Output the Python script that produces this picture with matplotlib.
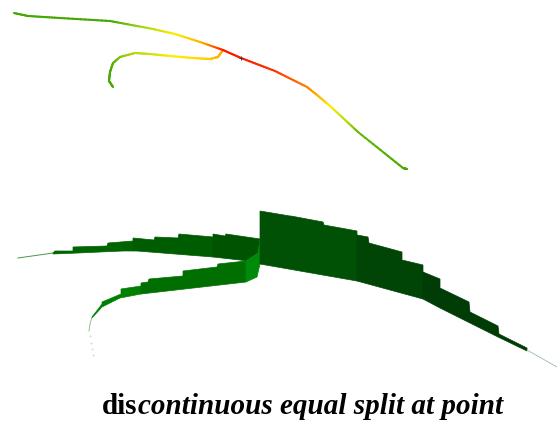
import numpy as np
import matplotlib
matplotlib.use('Agg')
import matplotlib.pyplot as plt
from matplotlib.collections import LineCollection
from matplotlib.colors import LinearSegmentedColormap

# top curves, picture coords (x, y, heat)
main_x = [14, 28, 60, 110, 153, 175, 200, 223, 241, 275, 307, 317, 330, 343, 358, 403, 407]
main_y = [13, 16, 18, 21, 29, 34, 42, 50, 58, 71, 87, 95, 106, 118, 132, 168, 169]
main_heat = [0.0, 0.0, 0.0, 0.0, 0.3, 0.5, 0.68, 1.0, 1.0, 0.95, 0.8, 0.7, 0.5, 0.3, 0.08, 0.0, 0.0]

branch_x = [223, 218, 210, 193, 170, 150, 135, 120, 113, 110, 109, 113]
branch_y = [50, 57, 59, 58, 56, 54, 53, 57, 63, 72, 81, 87]
branch_heat = [0.72, 0.68, 0.62, 0.55, 0.48, 0.33, 0.25, 0.15, 0.05, 0.0, 0.0, 0.0]

heat_colors = ['#44a800', '#b4dc10', '#ffee00', '#ff9c00', '#ff1a00']

# bottom ribbon, each section is top edge + bottom edge
upper_a_top = [(53, 253), (55, 251), (73, 251), (73, 247), (107, 246), (108, 243), (133, 241)]
upper_a_bot = [(53, 254), (78, 253), (100, 252), (123, 251), (133, 251)]
upper_b_top = [(133, 238), (154, 240), (155, 237), (178, 238), (179, 234), (213, 237)]
upper_b_bot = [(133, 251), (137, 251), (213, 257)]
upper_c_top = [(213, 234), (225, 236), (226, 234), (260, 239)]
upper_c_bot = [(213, 257), (240, 260), (246, 261), (258, 253)]

lower_a_top = [(92, 317), (102, 304), (102, 302), (121, 294), (121, 289), (141, 286)]
lower_a_bot = [(92, 318), (102, 307), (120, 298), (141, 294)]
lower_b_top = [(141, 283), (148, 282), (149, 279), (183, 276), (183, 271), (217, 267), (218, 264), (246, 261)]
lower_b_bot = [(141, 294), (246, 282)]
joint_top = [(246, 261), (258, 253), (260, 240)]
joint_bot = [(246, 282), (257, 277), (260, 264)]

right_a_top = [(260, 211), (290, 216), (291, 216), (323, 222), (324, 225), (357, 231)]
right_a_bot = [(260, 264), (357, 281)]
right_b_top = [(357, 235), (368, 237), (369, 243), (402, 252), (402, 260), (423, 265)]
right_b_bot = [(357, 281), (423, 299)]
right_c_top = [(423, 272), (440, 279), (440, 288), (469, 302), (470, 312), (498, 326), (499, 334), (527, 348)]
right_c_bot = [(423, 299), (440, 308), (498, 337), (527, 351)]

sections = [
    (upper_a_top, upper_a_bot, '#006400'),
    (upper_b_top, upper_b_bot, '#005c00'),
    (upper_c_top, upper_c_bot, '#005300'),
    (lower_a_top, lower_a_bot, '#008000'),
    (lower_b_top, lower_b_bot, '#006e00'),
    (joint_top, joint_bot, '#008a0a'),
    (right_a_top, right_a_bot, '#005005'),
    (right_b_top, right_b_bot, '#004505'),
    (right_c_top, right_c_bot, '#003c05'),
]

tail_right_x = [527, 557]
tail_right_y = [350, 367]
tail_upper_x = [18, 53]
tail_upper_y = [258, 253]
tail_left_x = [92, 90, 89]
tail_left_y = [317, 324, 331]
dots_x = [90, 91, 92, 93]
dots_y = [336, 343, 349, 355]

caption_bold = 'dis'
caption_italic = 'continuous equal split at point'


def heat_line(ax, xs, ys, heat, cmap, lw):
    # cut each piece up so the colour fades along it
    t = np.linspace(0, len(xs) - 1, (len(xs) - 1) * 12 + 1)
    idx = np.arange(len(xs))
    px = np.interp(t, idx, xs)
    py = np.interp(t, idx, ys)
    ph = np.interp(t, idx, heat)
    pts = np.column_stack([px, py]).reshape(-1, 1, 2)
    segs = np.concatenate([pts[:-1], pts[1:]], axis=1)
    lc = LineCollection(segs, colors=cmap(ph[:-1]), linewidths=lw, capstyle='round')
    ax.add_collection(lc)


fig = plt.figure(figsize=(5.57, 4.24), dpi=100)
ax = fig.add_axes([0, 0, 1, 1])
ax.set_xlim(0, 557)
ax.set_ylim(424, 0)
ax.axis('off')

cmap = LinearSegmentedColormap.from_list('heat', heat_colors)
heat_line(ax, branch_x, branch_y, branch_heat, cmap, 1.5)
heat_line(ax, main_x, main_y, main_heat, cmap, 1.5)
ax.plot([241], [58], marker='+', ms=3, mew=0.7, color='#503030')

for top, bot, col in sections:
    poly = np.array(top + bot[::-1])
    ax.fill(poly[:, 0], poly[:, 1], facecolor=col, edgecolor=col, linewidth=0.5)

ax.plot(tail_right_x, tail_right_y, color='#9cbc9c', lw=0.6)
ax.plot(tail_upper_x, tail_upper_y, color='#4a964a', lw=0.7)
ax.plot(tail_left_x, tail_left_y, color='#7abc7a', lw=0.6)
ax.plot(dots_x, dots_y, ls='none', marker='s', ms=0.4, color='#d0dcd0')

t1 = ax.text(102, 414, caption_bold, family='Liberation Serif', weight='bold',
             fontsize=21, va='baseline', ha='left')
fig.canvas.draw()
x_end = t1.get_window_extent().x1
ax.text(x_end, 414, caption_italic, family='Liberation Serif', weight='bold', style='italic',
        fontsize=21, va='baseline', ha='left')

fig.savefig('out.png', dpi=100)
